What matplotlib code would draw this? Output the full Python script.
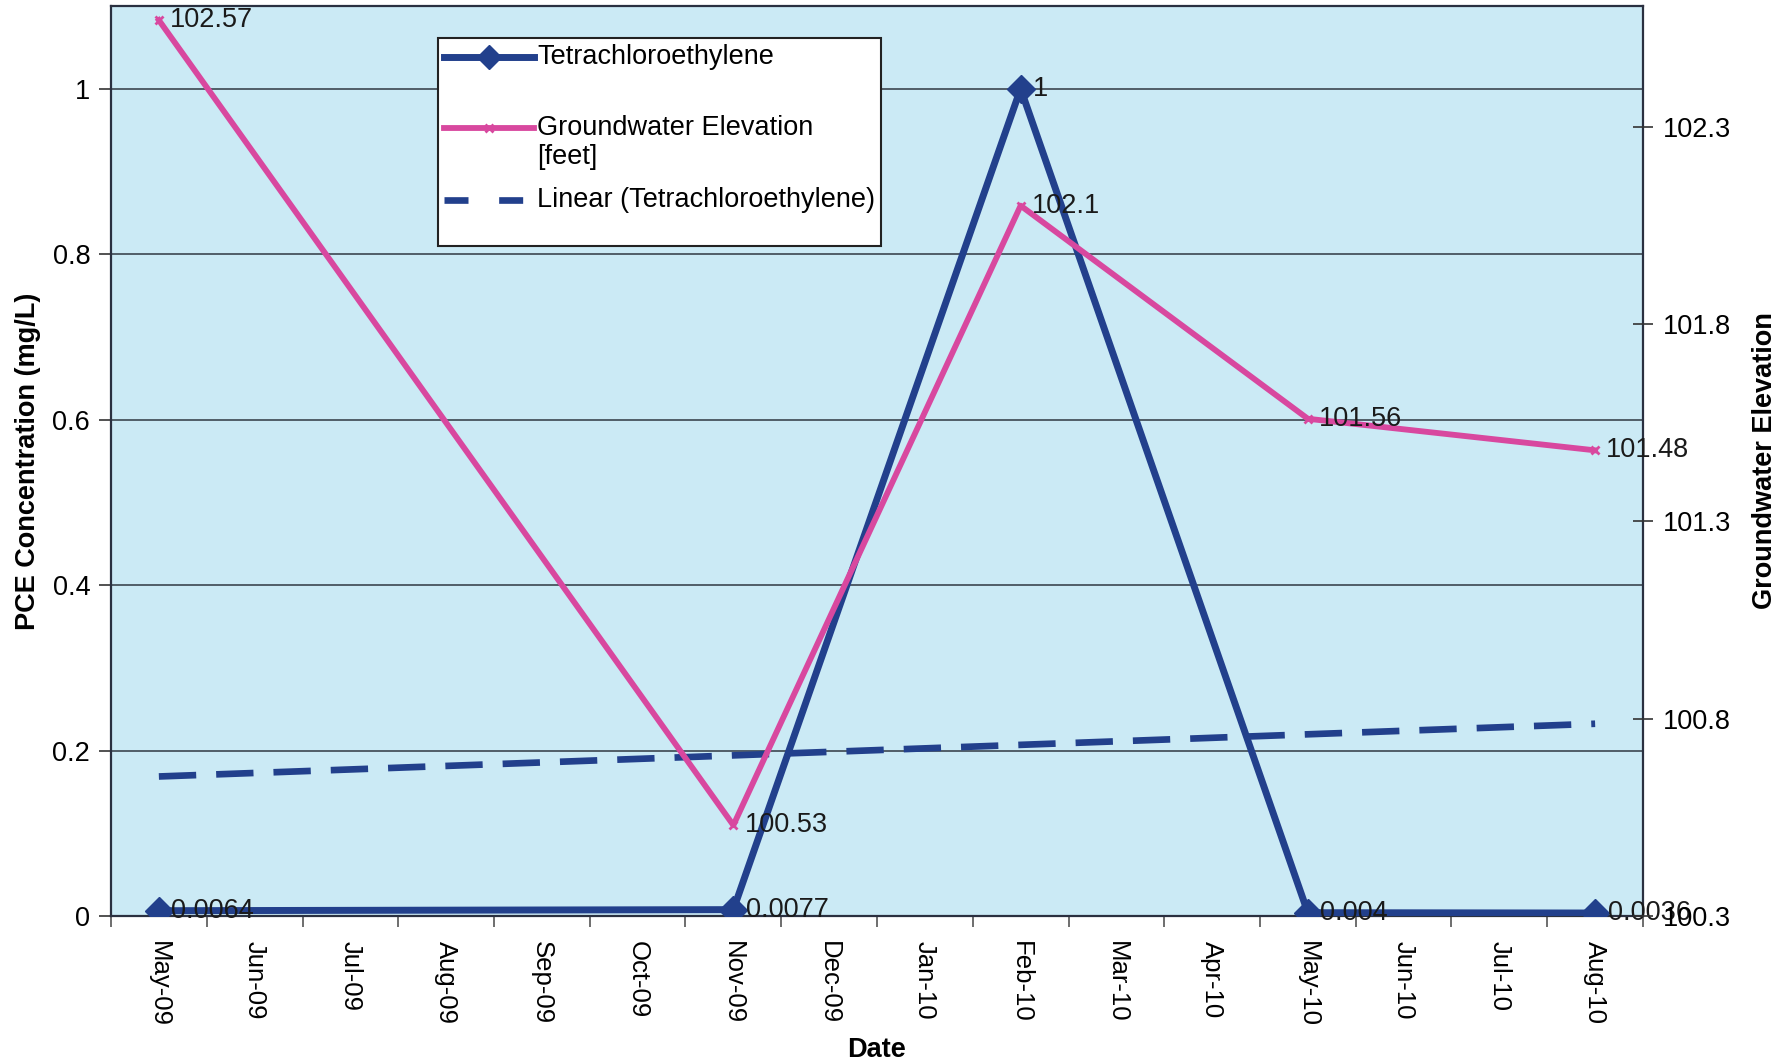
import numpy as np
import matplotlib
matplotlib.use("Agg")
import matplotlib.pyplot as plt
from matplotlib.lines import Line2D
from matplotlib.patches import Rectangle

plt.rcParams['font.family'] = ['Liberation Sans', 'DejaVu Sans']

# Monthly axis categories
months = ["May-09", "Jun-09", "Jul-09", "Aug-09", "Sep-09", "Oct-09", "Nov-09",
          "Dec-09", "Jan-10", "Feb-10", "Mar-10", "Apr-10", "May-10", "Jun-10",
          "Jul-10", "Aug-10"]

# Sampling events
sample_dates = ["May-09", "Nov-09", "Feb-10", "May-10", "Aug-10"]
pce_mg_l = [0.0064, 0.0077, 1, 0.004, 0.0036]
gw_elev_ft = [102.57, 100.53, 102.1, 101.56, 101.48]

pce_labels = ["0.0064", "0.0077", "1", "0.004", "0.0036"]
gw_labels = ["102.57", "100.53", "102.1", "101.56", "101.48"]

left_ticks = [0, 0.2, 0.4, 0.6, 0.8, 1]
right_ticks = [100.3, 100.8, 101.3, 101.8, 102.3]

NAVY = "#22408c"
PINK = "#d8489f"
BG = "#cbeaf5"
FS = 19.5

x = np.array([months.index(d) for d in sample_dates], dtype=float)

fig = plt.figure(figsize=(17.89, 10.64), dpi=100)
ax = fig.add_axes([111 / 1789, 1 - 916 / 1064, 1532 / 1789, 910 / 1064])
ax.set_facecolor(BG)

ax.set_xlim(-0.5, len(months) - 0.5)
ax.set_ylim(0, 1.1)
ax.set_yticks(left_ticks)
ax.set_yticklabels([f"{t:g}" for t in left_ticks], fontsize=FS)
ax.yaxis.grid(True, color="#3c4650", linewidth=1.2)
ax.set_axisbelow(True)
ax.tick_params(axis="y", direction="out", length=9, width=1.2, pad=6, color="#333333")

# Month labels centred in each slot, tick marks between slots
ax.set_xticks(np.arange(len(months)))
ax.set_xticklabels(months, rotation=-90, fontsize=18.5, va="top", ha="center")
ax.tick_params(axis="x", which="major", length=0, pad=18)
ax.set_xticks(np.arange(len(months) + 1) - 0.5, minor=True)
ax.tick_params(axis="x", which="minor", direction="out", length=8, width=1.2, color="#555555")

for s in ax.spines.values():
    s.set_color("#2a3040")
    s.set_linewidth(1.6)

# PCE concentration
ax.plot(x, pce_mg_l, color=NAVY, linewidth=5, marker="D", markersize=14,
        markerfacecolor=NAVY, markeredgecolor=NAVY, zorder=3, solid_joinstyle="miter")

# Linear trend of PCE
coef = np.polyfit(x, pce_mg_l, 1)
xt = np.array([x.min(), x.max()])
ax.plot(xt, np.polyval(coef, xt), color=NAVY, linewidth=4.8,
        dashes=(5.6, 3.0), zorder=2.5)

for xi, yi, lab in zip(x, pce_mg_l, pce_labels):
    ax.annotate(lab, (xi, yi), xytext=(9, 0), textcoords="offset points",
                va="center", ha="left", fontsize=FS, color="#1a1a1a", zorder=5)

ax.set_ylabel("PCE Concentration (mg/L)", fontsize=FS, fontweight="bold")
ax.set_xlabel("Date", fontsize=FS, fontweight="bold")
ax.yaxis.set_label_coords(-0.046, 0.5)
ax.xaxis.set_label_coords(0.5, -0.133)

# Groundwater elevation on secondary axis
ax2 = ax.twinx()
ax2.set_ylim(100.3, 102.606)
ax2.set_yticks(right_ticks)
ax2.set_yticklabels([f"{t:g}" for t in right_ticks], fontsize=FS)
ax2.tick_params(axis="y", direction="inout", length=14, width=1.2, pad=7, color="#333333")
for s in ax2.spines.values():
    s.set_visible(False)
ax2.plot(x, gw_elev_ft, color=PINK, linewidth=4.2, marker="x", markersize=6,
         markeredgewidth=2, markeredgecolor=PINK, zorder=4)
for xi, yi, lab in zip(x, gw_elev_ft, gw_labels):
    ax2.annotate(lab, (xi, yi), xytext=(8, 0), textcoords="offset points",
                 va="center", ha="left", fontsize=FS, color="#1a1a1a", zorder=5)
ax2.set_ylabel("Groundwater Elevation", fontsize=FS, fontweight="bold", rotation=90)
ax2.yaxis.set_label_coords(1.071, 0.5)

# Legend box
lx0, ly0, lw, lh = 438, 38, 443, 208
W, H = 1789, 1064
leg_ax = fig.add_axes([0, 0, 1, 1], facecolor="none")
leg_ax.set_xlim(0, W)
leg_ax.set_ylim(H, 0)
leg_ax.axis("off")
leg_ax.add_patch(Rectangle((lx0, ly0), lw, lh, facecolor="white",
                           edgecolor="#222222", linewidth=1.5))
hx = [lx0 + 6, lx0 + 96]
leg_ax.add_line(Line2D(hx, [57, 57], color=NAVY, linewidth=5))
leg_ax.add_line(Line2D([sum(hx) / 2], [57], color=NAVY, marker="D", markersize=12))
leg_ax.add_line(Line2D(hx, [128, 128], color=PINK, linewidth=4.2))
leg_ax.add_line(Line2D([sum(hx) / 2], [128], color=PINK, marker="x", markersize=6,
                       markeredgewidth=2))
leg_ax.add_line(Line2D(hx, [200, 200], color=NAVY, linewidth=4.8, dashes=(3.6, 4.6)))
tx = lx0 + 99
leg_ax.text(tx, 57, "Tetrachloroethylene", fontsize=FS, va="center", ha="left")
leg_ax.text(tx, 128, "Groundwater Elevation", fontsize=FS, va="center", ha="left")
leg_ax.text(tx, 157, "[feet]", fontsize=FS, va="center", ha="left")
leg_ax.text(tx, 200, "Linear (Tetrachloroethylene)", fontsize=FS, va="center", ha="left")

fig.savefig("out.png", dpi=100, facecolor="white")
